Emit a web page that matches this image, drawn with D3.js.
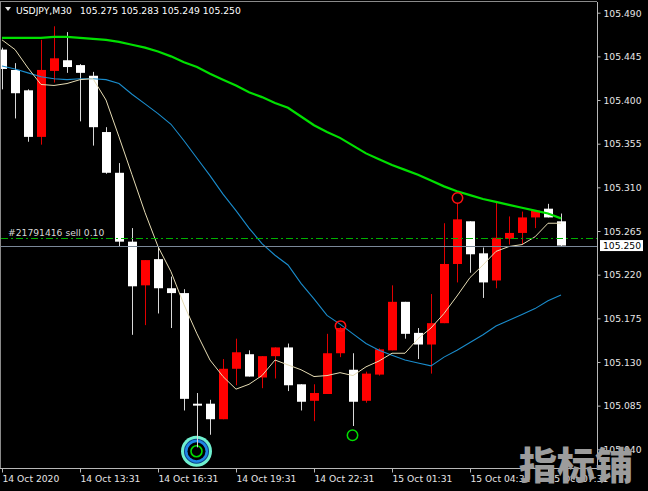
<!DOCTYPE html>
<html><head><meta charset="utf-8">
<script src="https://cdn.jsdelivr.net/npm/d3@7"></script>
<style>html,body{margin:0;padding:0;background:#000;overflow:hidden}</style>
</head><body>
<svg id="c" width="648" height="491"></svg>
<script>
// ---------- data ----------
const symbol = "USDJPY,M30";
const quote = [105.275, 105.283, 105.249, 105.250];
const opens  = [105.452,105.431,105.410,105.362,105.430,105.441,105.436,105.425,105.367,105.325,
                105.254,105.209,105.236,105.206,105.201,105.087,105.087,105.071,105.123,105.138,
                105.114,105.136,105.145,105.107,105.090,105.097,105.139,105.122,105.090,105.117,
                105.142,105.192,105.160,105.148,105.170,105.231,105.275,105.242,105.214,105.257,
                105.263,105.279,105.288,105.275];
const highs  = [105.454,105.438,105.411,105.462,105.476,105.470,105.437,105.429,105.372,105.335,
                105.268,105.235,105.248,105.218,105.205,105.098,105.091,105.133,105.154,105.142,
                105.136,105.145,105.149,105.107,105.107,105.159,105.166,105.139,105.120,105.144,
                105.209,105.192,105.165,105.200,105.273,105.294,105.275,105.248,105.294,105.280,
                105.285,105.286,105.293,105.283];
const lows   = [105.411,105.381,105.357,105.354,105.418,105.428,105.378,105.353,105.324,105.249,
                105.158,105.168,105.180,105.165,105.080,105.042,105.055,105.071,105.106,105.115,
                105.103,105.113,105.100,105.080,105.069,105.097,105.135,105.064,105.088,105.116,
                105.142,105.154,105.133,105.118,105.170,105.212,105.222,105.196,105.206,105.251,
                105.251,105.268,105.279,105.249];
const closes = [105.432,105.407,105.362,105.431,105.443,105.434,105.428,105.372,105.325,105.254,
                105.208,105.235,105.206,105.201,105.092,105.085,105.071,105.123,105.140,105.115,
                105.136,105.145,105.106,105.089,105.098,105.139,105.165,105.089,105.118,105.143,
                105.192,105.159,105.148,105.170,105.231,105.277,105.241,105.212,105.258,105.263,
                105.279,105.286,105.279,105.250];
const maFast = [105.462,105.452,105.433,105.416,105.415,105.417,105.421,105.422,105.400,105.362,
                105.323,105.284,105.249,105.223,105.189,105.159,105.132,105.115,105.102,105.107,
                105.116,105.132,105.127,105.122,105.115,105.116,105.119,105.116,105.125,105.131,
                105.139,105.139,105.154,105.165,105.180,105.198,105.217,105.230,105.244,105.249,
                105.251,105.259,105.273,105.273];
const maMid  = [105.435,105.432,105.428,105.424,105.422,105.421,105.422,105.422,105.421,105.417,
                105.406,105.396,105.386,105.375,105.358,105.340,105.322,105.303,105.286,105.268,
                105.252,105.240,105.230,105.211,105.195,105.178,105.169,105.159,105.149,105.142,
                105.137,105.132,105.129,105.126,105.135,105.142,105.150,105.158,105.167,105.173,
                105.179,105.185,105.193,105.199];
const maSlow = [105.464,105.464,105.464,105.464,105.465,105.465,105.464,105.463,105.462,105.460,
                105.457,105.454,105.450,105.445,105.439,105.434,105.427,105.421,105.415,105.408,
                105.403,105.397,105.392,105.383,105.374,105.367,105.361,105.353,105.345,105.339,
                105.333,105.328,105.323,105.317,105.311,105.306,105.302,105.298,105.295,105.292,
                105.289,105.286,105.283,105.278];
const priceTicks = [105.490,105.445,105.400,105.355,105.310,105.265,105.220,105.175,105.130,105.085,105.040];
const timeTickIdx = [0,6,12,18,24,30,36,42];
const timeTickLabels = ["14 Oct 2020","14 Oct 13:31","14 Oct 16:31","14 Oct 19:31","14 Oct 22:31","15 Oct 01:31","15 Oct 04:31","15 Oct 07:31"];
const orderLabel = "#21791416 sell 0.10";
const orderPrice = 105.258;
const bidPrice = 105.250;
const sellSignalIdx = [26, 35];
const sellSignalPrice = [105.167, 105.299];
const buySignalIdx = [27];
const buySignalPrice = [105.0545];
const targetIdx = [15];
const targetPrice = [105.038];
const watermark = "指标铺";

// ---------- layout ----------
const FONT = "'DejaVu Sans', Verdana, sans-serif";
const plotL = 1, plotR = 597, plotT = 2, plotB = 468;
const svg = d3.select("#c");
svg.append("rect").attr("width",648).attr("height",491).attr("fill","#000");

const x = d3.scaleLinear().domain([0, 43]).range([2, 561]);
const y = d3.scaleLinear().domain([105.040, 105.490]).range([449.3, 12.7]);

svg.append("clipPath").attr("id","plot").append("rect")
  .attr("x",plotL).attr("y",plotT).attr("width",plotR-plotL).attr("height",plotB-plotT);
const g = svg.append("g").attr("clip-path","url(#plot)");

// target marker (drawn under candles)
targetIdx.forEach((ti,k)=>{
  const cx = Math.round(x(ti)) - 0.5, cy = y(targetPrice[k]);
  g.append("circle").attr("cx",cx).attr("cy",cy).attr("r",15.5).attr("fill","#6ff0cf");
  g.append("circle").attr("cx",cx).attr("cy",cy).attr("r",12.5).attr("fill","#0c3f86");
  g.append("circle").attr("cx",cx).attr("cy",cy).attr("r",11.5).attr("fill","#1e86e6");
  g.append("circle").attr("cx",cx).attr("cy",cy).attr("r",9).attr("fill","#000");
  g.append("circle").attr("cx",cx).attr("cy",cy).attr("r",5.5).attr("fill","none")
    .attr("stroke","#00dd00").attr("stroke-width",1.6);
});

// candles
const bars = d3.range(opens.length).map(i=>({i,o:opens[i],h:highs[i],l:lows[i],c:closes[i]}));
const col = d => d.c >= d.o ? "#ff0000" : "#ffffff";
g.selectAll("line.wick").data(bars).join("line").attr("class","wick")
  .attr("x1",d=>Math.round(x(d.i))+0.5).attr("x2",d=>Math.round(x(d.i))+0.5)
  .attr("y1",d=>y(d.h)).attr("y2",d=>y(d.l))
  .attr("stroke",d=>d.c>=d.o?"#e00000":"#d8d8d8").attr("stroke-width",1);
g.selectAll("rect.body").data(bars).join("rect").attr("class","body")
  .attr("x",d=>Math.round(x(d.i))-4).attr("width",9)
  .attr("y",d=>y(Math.max(d.o,d.c)))
  .attr("height",d=>Math.max(1.5, y(Math.min(d.o,d.c))-y(Math.max(d.o,d.c))))
  .attr("fill",col);

// moving averages
const line = d3.line().x((d,i)=>x(i)).y(d=>y(d));
g.append("path").attr("d",line(maMid)).attr("fill","none").attr("stroke","#1a8ccc").attr("stroke-width",1.1);
g.append("path").attr("d",line(maFast)).attr("fill","none").attr("stroke","#e6dcb4").attr("stroke-width",1);
g.append("path").attr("d",line(maSlow)).attr("fill","none").attr("stroke","#00e000").attr("stroke-width",2.2);

// order and bid lines
g.append("line").attr("x1",plotL).attr("x2",plotR).attr("y1",Math.round(y(orderPrice))+0.5).attr("y2",Math.round(y(orderPrice))+0.5)
  .attr("stroke","#00b000").attr("stroke-width",1).attr("stroke-dasharray","7,3,2,3");
g.append("line").attr("x1",plotL).attr("x2",plotR).attr("y1",Math.round(y(bidPrice))+0.5).attr("y2",Math.round(y(bidPrice))+0.5)
  .attr("stroke","#7a8898").attr("stroke-width",1);
g.append("text").attr("x",8).attr("y",y(orderPrice)-2).text(orderLabel)
  .attr("fill","#d8d8d8").attr("font-family",FONT).attr("font-size","9.2px");

// signal circles
sellSignalIdx.forEach((si,k)=>{
  g.append("circle").attr("cx",Math.round(x(si))+0.5).attr("cy",y(sellSignalPrice[k])).attr("r",5.2)
    .attr("fill","none").attr("stroke","#ff1010").attr("stroke-width",1.5);
});
buySignalIdx.forEach((bi,k)=>{
  g.append("circle").attr("cx",Math.round(x(bi))-0.5).attr("cy",y(buySignalPrice[k])).attr("r",5.2)
    .attr("fill","none").attr("stroke","#00dd00").attr("stroke-width",1.5);
});

// frame
const frameCol = "#b8b8b8";
svg.append("line").attr("x1",0.5).attr("x2",0.5).attr("y1",plotT).attr("y2",plotB).attr("stroke","#8a8a8a");
svg.append("line").attr("x1",0).attr("x2",plotR).attr("y1",1.5).attr("y2",1.5).attr("stroke","#8a8a8a");

// y axis (right)
const yAxis = svg.append("g").attr("transform",`translate(${plotR+0.5},0)`)
  .call(d3.axisRight(y).tickValues(priceTicks).tickFormat(d3.format(".3f")).tickSize(3).tickPadding(3));
yAxis.select(".domain").remove();
yAxis.append("line").attr("x1",0).attr("x2",0).attr("y1",plotT).attr("y2",plotB).attr("stroke",frameCol);
yAxis.selectAll(".tick line").attr("stroke",frameCol);
yAxis.selectAll(".tick text").attr("fill","#e6e6e6").attr("font-family",FONT).attr("font-size","9.2px").attr("dy","0.36em");

// x axis (bottom)
const xAxis = svg.append("g").attr("transform",`translate(0,${plotB+0.5})`)
  .call(d3.axisBottom(x).tickValues(timeTickIdx).tickFormat((d,i)=>timeTickLabels[i]).tickSize(4).tickPadding(3));
xAxis.select(".domain").remove();
xAxis.append("line").attr("x1",0).attr("x2",plotR).attr("y1",0).attr("y2",0).attr("stroke",frameCol);
xAxis.selectAll(".tick line").attr("stroke",frameCol);
xAxis.selectAll(".tick text").attr("fill","#e6e6e6").attr("font-family",FONT).attr("font-size","9.2px")
  .attr("text-anchor","start").attr("x",0).attr("y",6.5);

// bid label box
const bidY = y(bidPrice);
svg.append("rect").attr("x",600).attr("y",bidY-5.5).attr("width",43).attr("height",11).attr("fill","#ffffff");
svg.append("text").attr("x",603).attr("y",bidY).attr("dy","0.36em").text(d3.format(".3f")(bidPrice))
  .attr("fill","#000").attr("font-family",FONT).attr("font-size","9.2px");

// title
svg.append("path").attr("d","M5,7 L11,7 L8,11 Z").attr("fill","#e6e6e6");
svg.append("text").attr("x",16).attr("y",14).text(symbol)
  .attr("fill","#ffffff").attr("font-family",FONT).attr("font-size","9.2px");
svg.append("text").attr("x",80).attr("y",14).text(quote.map(d3.format(".3f")).join(" "))
  .attr("fill","#ffffff").attr("font-family",FONT).attr("font-size","9.2px");

// watermark
svg.append("text").attr("x",519).attr("y",479).text(watermark)
  .attr("fill","#9c9c9c").attr("font-family","'Noto Sans CJK SC', sans-serif")
  .attr("font-weight",900).attr("font-size","38px");
</script>
</body></html>
